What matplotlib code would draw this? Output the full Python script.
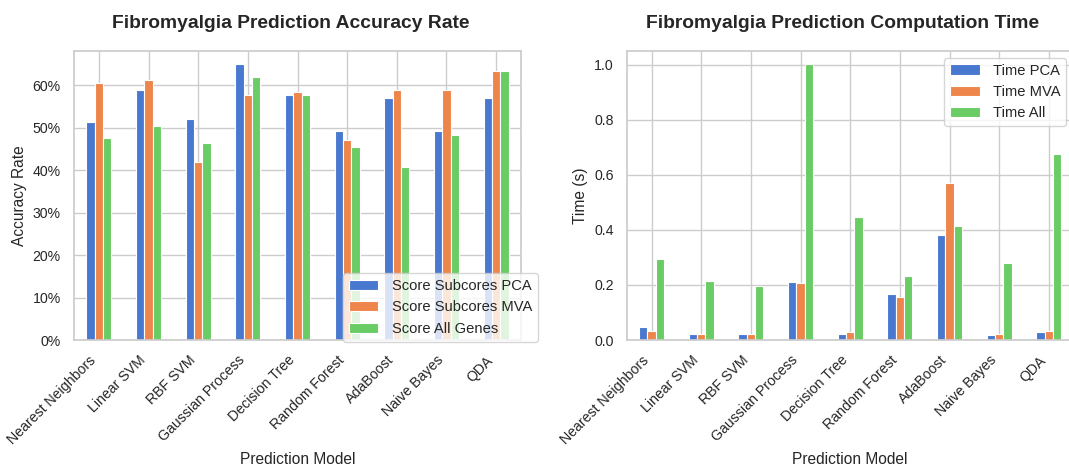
import numpy as np
import matplotlib
matplotlib.use("Agg")
import matplotlib.pyplot as plt
from matplotlib.ticker import PercentFormatter
import seaborn as sns

models = ["Nearest Neighbors", "Linear SVM", "RBF SVM", "Gaussian Process",
          "Decision Tree", "Random Forest", "AdaBoost", "Naive Bayes", "QDA"]

score_pca = [0.515, 0.590, 0.521, 0.650, 0.578, 0.493, 0.571, 0.493, 0.571]
score_mva = [0.606, 0.612, 0.420, 0.578, 0.584, 0.471, 0.590, 0.590, 0.634]
score_all = [0.476, 0.505, 0.464, 0.621, 0.578, 0.455, 0.408, 0.483, 0.634]

time_pca = [0.047, 0.023, 0.023, 0.211, 0.023, 0.168, 0.382, 0.018, 0.028]
time_mva = [0.033, 0.023, 0.023, 0.207, 0.028, 0.155, 0.570, 0.023, 0.033]
time_all = [0.293, 0.216, 0.197, 1.001, 0.448, 0.231, 0.415, 0.279, 0.676]

score_labels = ["Score Subcores PCA", "Score Subcores MVA", "Score All Genes"]
time_labels = ["Time PCA", "Time MVA", "Time All"]

sns.set_theme(style="whitegrid", palette="muted")
plt.rcParams['font.family'] = ['Liberation Sans', 'DejaVu Sans']
colors = sns.color_palette("muted")[:3]

W, H = 1069, 468
fig = plt.figure(figsize=(W / 100, H / 100), dpi=100)

def px_axes(x0, y0, x1, y1):
    return fig.add_axes([x0 / W, 1 - y1 / H, (x1 - x0) / W, (y1 - y0) / H])

ax1 = px_axes(74, 50.5, 521, 340)
ax2 = px_axes(626.7, 50.5, 1073.7, 340)

def draw(ax, series, labels):
    x = np.arange(len(models))
    w = 0.5 / 3
    for i, (vals, lab) in enumerate(zip(series, labels)):
        ax.bar(x + (i - 1) * w, vals, width=w, color=colors[i], label=lab,
               edgecolor='white', linewidth=0.8)
    ax.set_xticks(x)
    ax.set_xticklabels(models, rotation=45, ha='right', fontsize=10.2, color='.15')
    ax.set_xlim(-0.5, len(models) - 0.5)
    ax.tick_params(axis='y', labelsize=10.2, labelcolor='.15')
    ax.set_xlabel("Prediction Model", fontsize=11.2, color='.15')
    ax.grid(True, color='.8')
    ax.set_axisbelow(True)

draw(ax1, [score_pca, score_mva, score_all], score_labels)
ax1.yaxis.set_major_formatter(PercentFormatter(1.0, decimals=0))
ax1.set_ylabel("Accuracy Rate", fontsize=11.2, color='.15')
ax1.set_title("Fibromyalgia Prediction Accuracy Rate", fontsize=13.9,
              fontweight='bold', pad=16, color='.15', x=0.484)
ax1.legend(loc='lower right', bbox_to_anchor=(1.038, -0.006), borderaxespad=0,
           fontsize=10.6, framealpha=0.8, handletextpad=0.9)

draw(ax2, [time_pca, time_mva, time_all], time_labels)
ax2.set_ylabel("Time (s)", fontsize=11.2, color='.15')
ax2.set_title("Fibromyalgia Prediction Computation Time", fontsize=13.9,
              fontweight='bold', pad=16, color='.15', x=0.483)
ax2.legend(loc='upper right', fontsize=10.6, framealpha=0.8, handletextpad=0.9)

fig.savefig("out.png", dpi=100)
